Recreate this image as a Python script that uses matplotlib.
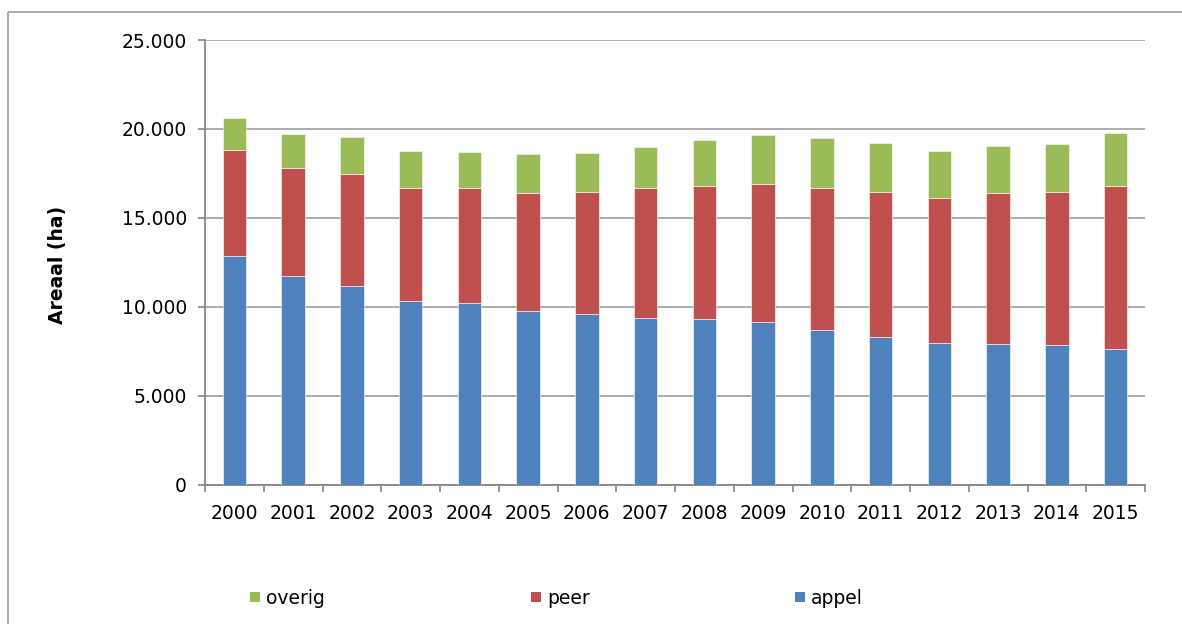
import matplotlib
matplotlib.use("Agg")
import matplotlib.pyplot as plt
from matplotlib.patches import Rectangle
from matplotlib.ticker import FuncFormatter, FixedLocator
import numpy as np

years = ["2000", "2001", "2002", "2003", "2004", "2005", "2006", "2007",
         "2008", "2009", "2010", "2011", "2012", "2013", "2014", "2015"]
appel = [12850, 11710, 11160, 10300, 10210, 9760, 9570, 9360,
         9310, 9140, 8690, 8280, 7940, 7900, 7830, 7620]
peer = [5990, 6100, 6330, 6360, 6490, 6660, 6900, 7300,
        7470, 7780, 7970, 8170, 8160, 8500, 8610, 9190]
overig = [1760, 1890, 2080, 2100, 2020, 2160, 2200, 2330,
          2600, 2740, 2820, 2780, 2680, 2660, 2730, 2970]
yticks = [0, 5000, 10000, 15000, 20000, 25000]

c_appel = "#4F81BD"
c_peer = "#C0504D"
c_overig = "#9BBB59"

plt.rcParams['font.family'] = ['DejaVu Sans']

W, H = 1182, 624
fig = plt.figure(figsize=(W / 100, H / 100), dpi=100)
fig.patch.set_facecolor("white")
fig.add_artist(Rectangle((8 / W, 1 - 12 / H), 1.2, -1.2, transform=fig.transFigure,
                         fill=False, edgecolor="#a6a6a6", linewidth=1.3))

ax = fig.add_axes([205 / W, 1 - 484.5 / H, (1145 - 205) / W, (484.5 - 40) / H])
x = np.arange(len(years))
bw = 0.40
ea = dict(edgecolor="#ffffff", linewidth=0.4)
ax.bar(x, appel, bw, color=c_appel, label="appel", zorder=3, **ea)
ax.bar(x, peer, bw, bottom=appel, color=c_peer, label="peer", zorder=3, **ea)
bot2 = np.array(appel) + np.array(peer)
ax.bar(x, overig, bw, bottom=bot2, color=c_overig, label="overig", zorder=3, **ea)

ax.set_xlim(-0.5, len(years) - 0.5)
ax.set_ylim(0, 25000)
ax.set_yticks(yticks)
ax.yaxis.set_major_formatter(FuncFormatter(lambda v, p: f"{int(v):,}".replace(",", ".")))
ax.grid(axis="y", color="#a6a6a6", linewidth=1.3, zorder=0)
ax.set_axisbelow(True)

ax.set_xticks(x)
ax.set_xticklabels(years)
ax.xaxis.set_minor_locator(FixedLocator(np.arange(-0.5, len(years), 1.0)))
ax.tick_params(axis="x", which="major", length=0, pad=14, labelsize=13.5)
ax.tick_params(axis="x", which="minor", length=5, width=1.2, color="#868686")
ax.tick_params(axis="y", length=5, width=1.2, color="#868686", pad=8, labelsize=13.5)

for s in ["top", "right"]:
    ax.spines[s].set_visible(False)
for s in ["left", "bottom"]:
    ax.spines[s].set_color("#868686")
    ax.spines[s].set_linewidth(1.3)

fig.text(57 / W, 1 - 265 / H, "Areaal (ha)", rotation=90, ha="center", va="center",
         fontsize=13.5, fontweight="bold")

# legend
leg_items = [("overig", c_overig, 250), ("peer", c_peer, 531), ("appel", c_appel, 795)]
for name, col, px in leg_items:
    fig.add_artist(Rectangle((px / W, 1 - 602 / H), 10 / W, 10 / H, transform=fig.transFigure,
                             facecolor=col, edgecolor="none"))
    fig.text((px + 16) / W, 1 - 598 / H, name, ha="left", va="center", fontsize=13.5)

fig.savefig("out.png", dpi=100, facecolor="white")
